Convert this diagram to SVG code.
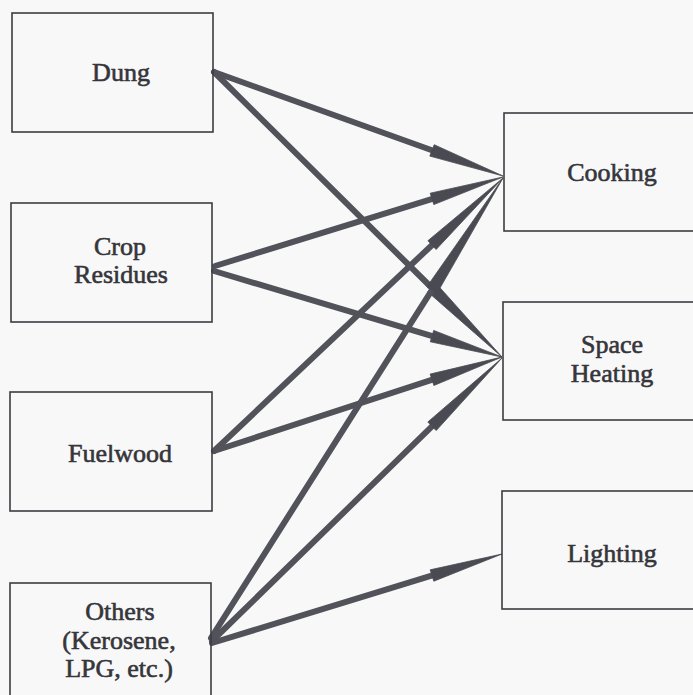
<svg xmlns="http://www.w3.org/2000/svg" width="693" height="695" viewBox="0 0 693 695">
<style>
.bg{fill:#f8f8f8}
.box{fill:none;stroke:#3c3c42;stroke-width:1.6}
.lbl{font-size:26px;fill:#35353a;stroke:#35353a;stroke-width:0.6;text-anchor:middle}
.shaft{stroke:#52525a;stroke-width:6;stroke-linecap:round;fill:none}
.head{fill:#4a4a52;stroke:#4a4a52;stroke-width:0.8;stroke-linejoin:round}
</style>
<rect class="bg" x="0" y="0" width="693" height="695"/>
<g id="connectors">
  <g id="dung-cooking"><line class="shaft" x1="214" y1="72" x2="434" y2="151"/><polygon class="head" points="434.2,144.7 429.8,156.1 503,176"/></g>
  <g id="dung-space"><line class="shaft" x1="214" y1="72" x2="434" y2="290"/><polygon class="head" points="436.2,283.5 427.8,291.9 502,357"/></g>
  <g id="crop-cooking"><line class="shaft" x1="215" y1="266" x2="434" y2="198.3"/><polygon class="head" points="430.2,193.2 433.8,204.6 503,177"/></g>
  <g id="crop-space"><line class="shaft" x1="214" y1="271" x2="434" y2="336.7"/><polygon class="head" points="433.7,330.4 430.3,341.8 502,357"/></g>
  <g id="fuel-cooking"><line class="shaft" x1="214" y1="451" x2="434" y2="243.2"/><polygon class="head" points="427.9,240.7 436.1,249.5 503,178"/></g>
  <g id="fuel-space"><line class="shaft" x1="214" y1="451" x2="434" y2="379.2"/><polygon class="head" points="430.1,374.1 433.9,385.5 502,357"/></g>
  <g id="others-cooking"><line class="shaft" x1="211" y1="638" x2="433" y2="288.4"/><polygon class="head" points="426.9,286.7 437.1,293.1 503,178"/></g>
  <g id="others-space"><line class="shaft" x1="212" y1="641" x2="434" y2="424.4"/><polygon class="head" points="427.8,422.0 436.2,430.6 502,358"/></g>
  <g id="others-lighting"><line class="shaft" x1="212" y1="643" x2="434" y2="574.9"/><polygon class="head" points="430.2,569.8 433.8,581.2 502,554"/></g>
</g>
<g font-family="Liberation Serif, serif">
<g id="dung"><rect class="box" x="12" y="13" width="201" height="119"/><text class="lbl" x="121" y="81">Dung</text></g>
<g id="crop"><rect class="box" x="11" y="203" width="201" height="119"/><text class="lbl" x="120" y="255">Crop</text><text class="lbl" x="121" y="283">Residues</text></g>
<g id="fuelwood"><rect class="box" x="10" y="392" width="202" height="119"/><text class="lbl" x="120" y="462">Fuelwood</text></g>
<g id="others"><rect class="box" x="10" y="583" width="201" height="120"/><text class="lbl" x="120" y="620">Others</text><text class="lbl" x="119" y="649">(Kerosene,</text><text class="lbl" x="119" y="677">LPG, etc.)</text></g>
<g id="cooking"><rect class="box" x="504" y="113" width="200" height="118"/><text class="lbl" x="612" y="181">Cooking</text></g>
<g id="space-heating"><rect class="box" x="503" y="302" width="200" height="118"/><text class="lbl" x="612" y="353">Space</text><text class="lbl" x="612" y="382">Heating</text></g>
<g id="lighting"><rect class="box" x="502" y="491" width="200" height="118"/><text class="lbl" x="612" y="562">Lighting</text></g>
</g>
</svg>
